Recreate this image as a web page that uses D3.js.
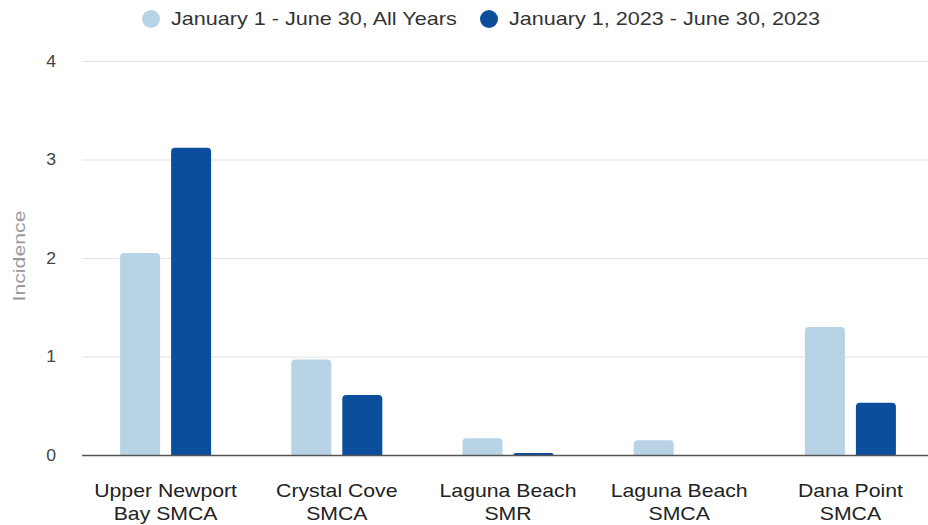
<!DOCTYPE html>
<html><head><meta charset="utf-8">
<script src="https://cdn.jsdelivr.net/npm/d3@7"></script>
<style>body{margin:0;background:#fff;} svg{display:block;font-family:"Liberation Sans",Arial,sans-serif;}</style>
</head><body>
<svg id="chart" width="928" height="525"></svg>
<script>
const categories = [["Upper Newport","Bay SMCA"],["Crystal Cove","SMCA"],["Laguna Beach","SMR"],["Laguna Beach","SMCA"],["Dana Point","SMCA"]];
const seriesNames = ["January 1 - June 30, All Years","January 1, 2023 - June 30, 2023"];
const allYears = [2.05, 0.97, 0.17, 0.15, 1.30];
const year2023 = [3.12, 0.61, 0.02, 0.0, 0.53];
const yTicks = [0,1,2,3,4];
const colors = ["#b8d3e6","#0b4f9c"];

const svg = d3.select("#chart");
const W = 928, H = 525;
const SX = 1.18; // horizontal stretch of text, as in reference
const x0 = d3.scaleBand().domain(d3.range(categories.length)).range([80, 936]).paddingInner(0).paddingOuter(0);
const y = d3.scaleLinear().domain([0,4]).range([455, 61]);
const barW = 40, gap = 11;

function stext(g, x, yy, str, opts){
  const t = g.append("g").attr("transform",`translate(${x},${yy}) scale(${opts.sx||SX},1)`)
    .append("text").attr("x",0).attr("y",0)
    .attr("text-anchor",opts.anchor||"start")
    .attr("font-size",opts.size||18).attr("fill",opts.fill||"#333").text(str);
  if (opts.dy) t.attr("dy",opts.dy);
  return t;
}

// gridlines
svg.append("g").selectAll("line").data(yTicks.filter(d=>d>0)).join("line")
  .attr("x1",82).attr("x2",W).attr("y1",d=>y(d)+0.5).attr("y2",d=>y(d)+0.5)
  .attr("stroke","#e3e3e3").attr("stroke-width",1);

// y labels
const yg = svg.append("g");
yTicks.forEach(d=> stext(yg, 56, y(d), String(d), {anchor:"end", size:16, fill:"#444", dy:"0.35em", sx:1.1}));

// y title
svg.append("g").attr("transform","translate(19,256) rotate(-90) scale(1.33,1)")
  .append("text").attr("text-anchor","middle").attr("dy","0.35em")
  .attr("font-size",16).attr("fill","#999").text("Incidence");

function barPath(xl, w, yt, yb, r){
  const h = yb - yt;
  if (h <= 0) return "";
  r = Math.min(r, h, w/2);
  return `M${xl},${yb}V${yt+r}Q${xl},${yt} ${xl+r},${yt}H${xl+w-r}Q${xl+w},${yt} ${xl+w},${yt+r}V${yb}Z`;
}

const series = [allYears, year2023];
series.forEach((vals, si) => {
  svg.append("g").selectAll("path").data(vals).join("path")
    .attr("d",(v,i)=>{
      const c = x0(i) + x0.bandwidth()/2;
      const xl = si===0 ? c - gap/2 - barW : c + gap/2;
      return barPath(xl, barW, y(v), y(0), 4);
    })
    .attr("fill", colors[si]);
});

// baseline
svg.append("line").attr("x1",82).attr("x2",W).attr("y1",y(0)+0.5).attr("y2",y(0)+0.5)
  .attr("stroke","#555").attr("stroke-width",1.5);

// x labels
const xg = svg.append("g");
categories.forEach((lines,i)=>{
  const cx = x0(i)+x0.bandwidth()/2;
  lines.forEach((s,j)=> stext(xg, cx, 497 + j*23, s, {anchor:"middle", size:18, fill:"#222"}));
});

// legend
const leg = svg.append("g");
const legX = [151, 489];
seriesNames.forEach((n,i)=>{
  leg.append("circle").attr("cx",legX[i]).attr("cy",19).attr("r",9).attr("fill",colors[i]);
  stext(leg, legX[i]+20, 19, n, {size:18, fill:"#333", dy:"0.35em", sx:1.2});
});
</script>
</body></html>
